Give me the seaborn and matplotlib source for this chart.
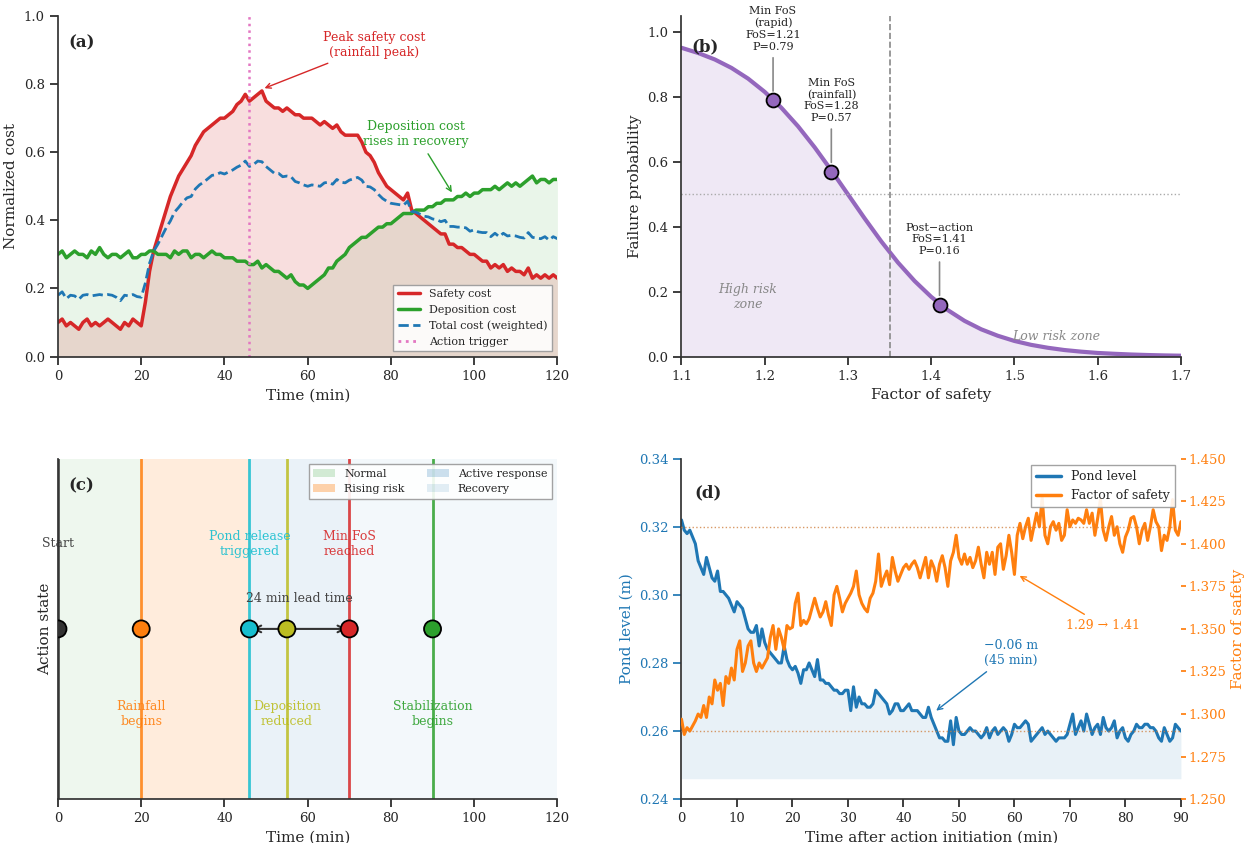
import numpy as np
import matplotlib
matplotlib.use("Agg")
import matplotlib.pyplot as plt
import seaborn as sns
from matplotlib.patches import Patch
from matplotlib.lines import Line2D

# ---------------- data ----------------
# Panel (a): costs sampled every minute, 0..120
time_a = np.arange(0, 121)
safety_cost = [
    0.10, 0.11, 0.09, 0.10, 0.09, 0.08, 0.10, 0.11, 0.09, 0.10, 0.09, 0.10, 0.11, 0.10, 0.09, 0.08, 0.10, 0.09, 0.11, 0.10, 0.09,
    0.16, 0.25, 0.31, 0.35, 0.39, 0.43, 0.47, 0.50, 0.53, 0.55, 0.57, 0.59, 0.62, 0.64, 0.66, 0.67, 0.68, 0.69, 0.70, 0.70,
    0.71, 0.72, 0.74, 0.75, 0.77, 0.75, 0.76, 0.77, 0.78, 0.75, 0.74, 0.73, 0.73, 0.72, 0.73, 0.72, 0.71, 0.71, 0.70, 0.70,
    0.70, 0.69, 0.68, 0.69, 0.68, 0.67, 0.68, 0.66, 0.65, 0.65, 0.65, 0.65, 0.63, 0.60, 0.59, 0.57, 0.54, 0.52, 0.50, 0.49,
    0.48, 0.47, 0.46, 0.48, 0.43, 0.42, 0.41, 0.40, 0.39, 0.38, 0.37, 0.36, 0.36, 0.33, 0.33, 0.32, 0.32, 0.31, 0.30, 0.30,
    0.29, 0.28, 0.28, 0.26, 0.27, 0.26, 0.27, 0.25, 0.26, 0.25, 0.25, 0.24, 0.26, 0.23, 0.24, 0.23, 0.24, 0.23, 0.24, 0.23,
]
deposition_cost = [
    0.30, 0.31, 0.29, 0.30, 0.31, 0.30, 0.30, 0.29, 0.31, 0.30, 0.32, 0.30, 0.29, 0.30, 0.30, 0.29, 0.30, 0.31, 0.29, 0.29, 0.30,
    0.30, 0.31, 0.31, 0.30, 0.30, 0.30, 0.29, 0.31, 0.30, 0.31, 0.31, 0.29, 0.30, 0.30, 0.29, 0.30, 0.31, 0.30, 0.30, 0.29,
    0.29, 0.29, 0.28, 0.28, 0.28, 0.27, 0.27, 0.28, 0.26, 0.27, 0.26, 0.25, 0.25, 0.24, 0.23, 0.24, 0.22, 0.21, 0.21, 0.20,
    0.21, 0.22, 0.23, 0.24, 0.26, 0.26, 0.28, 0.29, 0.30, 0.32, 0.33, 0.34, 0.35, 0.35, 0.36, 0.37, 0.38, 0.38, 0.39, 0.39,
    0.40, 0.41, 0.42, 0.42, 0.42, 0.43, 0.43, 0.43, 0.44, 0.44, 0.45, 0.45, 0.46, 0.46, 0.46, 0.47, 0.47, 0.48, 0.47, 0.48,
    0.48, 0.49, 0.49, 0.49, 0.50, 0.49, 0.50, 0.51, 0.50, 0.51, 0.50, 0.51, 0.52, 0.53, 0.51, 0.52, 0.52, 0.51, 0.52, 0.52,
]
safety_weight = 0.6
deposition_weight = 0.4
action_trigger_time = 46

# Panel (b): fragility curve
fos_grid = [1.10, 1.12, 1.14, 1.16, 1.18, 1.20, 1.22, 1.24, 1.26, 1.28, 1.30,
            1.32, 1.34, 1.36, 1.38, 1.40, 1.42, 1.44, 1.46, 1.48, 1.50,
            1.52, 1.54, 1.56, 1.58, 1.60, 1.62, 1.64, 1.66, 1.68, 1.70]
fail_prob = [0.952, 0.936, 0.916, 0.890, 0.857, 0.816, 0.767, 0.710, 0.645, 0.574, 0.500,
             0.426, 0.355, 0.290, 0.233, 0.184, 0.143, 0.110, 0.084, 0.064, 0.048,
             0.036, 0.027, 0.020, 0.015, 0.011, 0.0084, 0.0062, 0.0046, 0.0034, 0.0025]
key_fos = [1.21, 1.28, 1.41]
key_prob = [0.79, 0.57, 0.16]
key_labels = ["Min FoS\n(rapid)\nFoS=1.21\nP=0.79",
              "Min FoS\n(rainfall)\nFoS=1.28\nP=0.57",
              "Post\u2212action\nFoS=1.41\nP=0.16"]
fos_threshold = 1.35

# Panel (c): event timeline
event_times = [0, 20, 46, 55, 70, 90]
event_labels = ["Start", "Rainfall\nbegins", "Pond release\ntriggered",
                "Deposition\nreduced", "Min FoS\nreached", "Stabilization\nbegins"]
event_colors = ["#333333", "#ff7f0e", "#17becf", "#bcbd22", "#d62728", "#2ca02c"]
phase_names = ["Normal", "Rising risk", "Active response", "Recovery"]
phase_start = [0, 20, 46, 70]
phase_end = [20, 46, 70, 120]
phase_colors = ["#2ca02c", "#ff7f0e", "#1f77b4", "#1f77b4"]
phase_alpha = [0.08, 0.14, 0.09, 0.05]

# Panel (d): response after action, every 0.5 min, 0..90
time_d = np.arange(0, 90.5, 0.5)
pond_level = [
    0.322, 0.319, 0.318, 0.319, 0.317, 0.315, 0.310, 0.308, 0.306, 0.311,
    0.308, 0.305, 0.304, 0.307, 0.301, 0.301, 0.300, 0.299, 0.297, 0.295,
    0.298, 0.297, 0.296, 0.293, 0.290, 0.289, 0.289, 0.291, 0.285, 0.290,
    0.286, 0.284, 0.283, 0.282, 0.281, 0.280, 0.280, 0.285, 0.281, 0.279,
    0.278, 0.279, 0.277, 0.274, 0.278, 0.278, 0.280, 0.278, 0.276, 0.281,
    0.275, 0.275, 0.274, 0.274, 0.273, 0.272, 0.272, 0.271, 0.271, 0.272,
    0.272, 0.266, 0.273, 0.267, 0.270, 0.268, 0.268, 0.267, 0.267, 0.268,
    0.272, 0.271, 0.270, 0.269, 0.268, 0.265, 0.266, 0.268, 0.268, 0.266,
    0.266, 0.267, 0.268, 0.266, 0.266, 0.266, 0.265, 0.264, 0.264, 0.267,
    0.264, 0.262, 0.260, 0.258, 0.258, 0.257, 0.257, 0.263, 0.256, 0.264,
    0.260, 0.259, 0.259, 0.260, 0.261, 0.260, 0.260, 0.259, 0.258, 0.259,
    0.261, 0.258, 0.260, 0.261, 0.259, 0.260, 0.261, 0.260, 0.257, 0.259,
    0.262, 0.261, 0.261, 0.262, 0.263, 0.262, 0.257, 0.258, 0.259, 0.260,
    0.261, 0.259, 0.260, 0.259, 0.258, 0.257, 0.258, 0.258, 0.258, 0.259,
    0.262, 0.265, 0.259, 0.261, 0.263, 0.260, 0.265, 0.262, 0.259, 0.261,
    0.262, 0.259, 0.264, 0.261, 0.260, 0.261, 0.263, 0.258, 0.260, 0.261,
    0.258, 0.257, 0.259, 0.260, 0.262, 0.261, 0.261, 0.262, 0.262, 0.261,
    0.261, 0.260, 0.258, 0.257, 0.261, 0.259, 0.257, 0.258, 0.262, 0.261,
    0.260,
]
factor_of_safety = [
    1.297, 1.288, 1.292, 1.290, 1.293, 1.296, 1.300, 1.298, 1.305, 1.298,
    1.310, 1.306, 1.320, 1.314, 1.318, 1.305, 1.322, 1.318, 1.327, 1.320,
    1.338, 1.343, 1.325, 1.330, 1.340, 1.343, 1.330, 1.325, 1.330, 1.327,
    1.330, 1.333, 1.345, 1.352, 1.338, 1.350, 1.345, 1.338, 1.352, 1.350,
    1.351, 1.365, 1.371, 1.352, 1.355, 1.353, 1.356, 1.362, 1.368, 1.362,
    1.357, 1.360, 1.366, 1.358, 1.352, 1.370, 1.375, 1.368, 1.360, 1.365,
    1.368, 1.371, 1.375, 1.384, 1.370, 1.365, 1.362, 1.360, 1.368, 1.371,
    1.378, 1.394, 1.375, 1.380, 1.384, 1.376, 1.392, 1.384, 1.378, 1.382,
    1.386, 1.388, 1.385, 1.388, 1.390, 1.386, 1.380, 1.386, 1.392, 1.380,
    1.390, 1.386, 1.378, 1.388, 1.393, 1.386, 1.375, 1.390, 1.395, 1.405,
    1.392, 1.388, 1.394, 1.388, 1.392, 1.386, 1.390, 1.398, 1.388, 1.380,
    1.395, 1.388, 1.395, 1.382, 1.398, 1.400, 1.385, 1.393, 1.405, 1.395,
    1.382, 1.405, 1.412, 1.403, 1.410, 1.415, 1.402, 1.410, 1.418, 1.410,
    1.427, 1.405, 1.400, 1.410, 1.413, 1.408, 1.412, 1.402, 1.405, 1.420,
    1.410, 1.414, 1.412, 1.415, 1.414, 1.412, 1.420, 1.412, 1.418, 1.405,
    1.415, 1.426, 1.408, 1.402, 1.410, 1.416, 1.405, 1.410, 1.400, 1.395,
    1.404, 1.408, 1.415, 1.416, 1.410, 1.400, 1.408, 1.412, 1.402, 1.410,
    1.420, 1.413, 1.410, 1.396, 1.405, 1.402, 1.410, 1.426, 1.408, 1.405,
    1.413,
]
fos_before = 1.29
fos_after = 1.41

# ---------------- style ----------------
sns.set_theme(style="ticks")
plt.rcParams["font.family"] = ["DejaVu Serif", "DejaVu Sans"]
plt.rcParams["axes.edgecolor"] = "#333333"
plt.rcParams["xtick.labelsize"] = 9.5
plt.rcParams["ytick.labelsize"] = 9.5
plt.rcParams["axes.labelsize"] = 11

RED, GREEN, BLUE, PINK = "#d62728", "#2ca02c", "#1f77b4", "#e377c2"
ORANGE, PURPLE = "#ff7f0e", "#9467bd"

fig, axes = plt.subplots(2, 2, figsize=(12.47, 8.43), dpi=100)
fig.subplots_adjust(left=0.0465, right=0.947, bottom=0.052, top=0.981,
                    wspace=0.2485, hspace=0.30)
ax_a, ax_b = axes[0]
ax_c, ax_d = axes[1]

# ---------------- (a) ----------------
safety = np.array(safety_cost)
depo = np.array(deposition_cost)
total = safety_weight * safety + deposition_weight * depo

ax_a.fill_between(time_a, 0, depo, color=GREEN, alpha=0.10, lw=0)
ax_a.fill_between(time_a, 0, safety, color=RED, alpha=0.15, lw=0)
sns.lineplot(x=time_a, y=safety, ax=ax_a, color=RED, lw=2.5)
sns.lineplot(x=time_a, y=depo, ax=ax_a, color=GREEN, lw=2.5)
sns.lineplot(x=time_a, y=total, ax=ax_a, color=BLUE, lw=2, linestyle="--")
ax_a.axvline(action_trigger_time, color=PINK, ls=":", lw=1.8)
ax_a.set_xlim(0, 120)
ax_a.set_ylim(0, 1.0)
ax_a.set_xlabel("Time (min)")
ax_a.set_ylabel("Normalized cost")
ax_a.annotate("Peak safety cost\n(rainfall peak)", xy=(49, 0.785), xytext=(76, 0.915),
              color=RED, fontsize=9, ha="center", va="center",
              arrowprops=dict(arrowstyle="->", color=RED, lw=1))
ax_a.annotate("Deposition cost\nrises in recovery", xy=(95, 0.475), xytext=(86, 0.653),
              color=GREEN, fontsize=9, ha="center", va="center",
              arrowprops=dict(arrowstyle="->", color=GREEN, lw=1))
handles_a = [Line2D([], [], color=RED, lw=2.5), Line2D([], [], color=GREEN, lw=2.5),
             Line2D([], [], color=BLUE, lw=2, ls="--"), Line2D([], [], color=PINK, lw=2, ls=":")]
ax_a.legend(handles_a, ["Safety cost", "Deposition cost", "Total cost (weighted)", "Action trigger"],
            loc="lower right", fontsize=8, frameon=True, edgecolor="#999999", fancybox=False,
            framealpha=0.9)
ax_a.text(0.02, 0.92, "(a)", transform=ax_a.transAxes, fontsize=12, fontweight="bold", va="center")
sns.despine(ax=ax_a)

# ---------------- (b) ----------------
ax_b.fill_between(fos_grid, 0, fail_prob, color=PURPLE, alpha=0.15, lw=0)
sns.lineplot(x=fos_grid, y=fail_prob, ax=ax_b, color=PURPLE, lw=3)
ax_b.axvline(fos_threshold, color="#888888", ls="--", lw=1.2)
ax_b.axhline(0.5, color="#aaaaaa", ls=":", lw=1)
sns.scatterplot(x=key_fos, y=key_prob, ax=ax_b, color=PURPLE, s=100,
                edgecolor="black", linewidth=1.3, zorder=5)
for fx, fp, lab in zip(key_fos, key_prob, key_labels):
    ax_b.annotate(lab, xy=(fx, fp + 0.02), xytext=(fx, fp + 0.15), ha="center", va="bottom",
                  fontsize=8, color="#222222",
                  arrowprops=dict(arrowstyle="-", color="#888888", lw=1.2))
ax_b.text(1.18, 0.183, "High risk\nzone", style="italic", color="#888888", fontsize=9,
          ha="center", va="center")
ax_b.text(1.55, 0.062, "Low risk zone", style="italic", color="#888888", fontsize=9,
          ha="center", va="center")
ax_b.set_xlim(1.1, 1.7)
ax_b.set_ylim(0, 1.05)
ax_b.set_yticks([0, 0.2, 0.4, 0.6, 0.8, 1.0])
ax_b.set_xlabel("Factor of safety")
ax_b.set_ylabel("Failure probability")
ax_b.text(0.02, 0.91, "(b)", transform=ax_b.transAxes, fontsize=12, fontweight="bold", va="center")
sns.despine(ax=ax_b)

# ---------------- (c) ----------------
for name, s0, s1, col, al in zip(phase_names, phase_start, phase_end, phase_colors, phase_alpha):
    ax_c.axvspan(s0, s1, color=col, alpha=al, lw=0)
for i, (et, lab, col) in enumerate(zip(event_times, event_labels, event_colors)):
    ax_c.axvline(et, color=col, lw=2, alpha=0.85)
    ypos = 0.5 if i % 2 == 0 else -0.5
    ax_c.text(et, ypos, lab, color=col, fontsize=9, ha="center", va="center", alpha=0.9)
ax_c.annotate("", xy=(event_times[2], 0), xytext=(event_times[4], 0),
              arrowprops=dict(arrowstyle="<->", color="#333333", lw=1.5))
ax_c.text((event_times[2] + event_times[4]) / 2, 0.18,
          f"{event_times[4] - event_times[2]} min lead time",
          color="#444444", fontsize=9, ha="center", va="center")
sns.scatterplot(x=event_times, y=[0] * len(event_times), ax=ax_c, hue=event_labels,
                palette=event_colors, s=150, edgecolor="black", linewidth=1.3,
                zorder=6, legend=False, clip_on=True)
ax_c.set_xlim(0, 120)
ax_c.set_ylim(-1, 1)
ax_c.set_yticks([])
ax_c.set_xlabel("Time (min)")
ax_c.set_ylabel("Action state")
phase_handles = [Patch(facecolor=c, alpha=min(a * 2.5, 1), edgecolor="none")
                 for c, a in zip(phase_colors, phase_alpha)]
ax_c.legend(phase_handles, phase_names, loc="upper right", ncol=2, fontsize=8,
            frameon=True, edgecolor="#999999", fancybox=False, framealpha=0.9)
ax_c.text(0.02, 0.92, "(c)", transform=ax_c.transAxes, fontsize=12, fontweight="bold", va="center")
sns.despine(ax=ax_c)

# ---------------- (d) ----------------
pond = np.array(pond_level)
ax_d.fill_between(time_d, pond.min() - 0.01, pond, color=BLUE, alpha=0.1, lw=0)
sns.lineplot(x=time_d, y=pond, ax=ax_d, color=BLUE, lw=2.2)
ax_d.set_xlim(0, 90)
ax_d.set_ylim(0.24, 0.34)
ax_d.set_yticks([0.24, 0.26, 0.28, 0.30, 0.32, 0.34])
ax_d.set_xlabel("Time after action initiation (min)")
ax_d.set_ylabel("Pond level (m)", color=BLUE)
ax_d.tick_params(axis="y", colors=BLUE)
ax_d.spines["left"].set_color("#333333")

ax_d2 = ax_d.twinx()
sns.lineplot(x=time_d, y=factor_of_safety, ax=ax_d2, color=ORANGE, lw=2.2)
ax_d2.axhline(fos_before, color="#d08040", ls=":", lw=1, alpha=0.8)
ax_d2.axhline(fos_after, color="#d08040", ls=":", lw=1, alpha=0.8)
ax_d2.set_ylim(1.25, 1.45)
ax_d2.set_yticks([1.250, 1.275, 1.300, 1.325, 1.350, 1.375, 1.400, 1.425, 1.450])
ax_d2.yaxis.set_major_formatter(matplotlib.ticker.FormatStrFormatter("%.3f"))
ax_d2.set_ylabel("Factor of safety", color=ORANGE, labelpad=3)
ax_d2.tick_params(axis="y", colors=ORANGE, length=3.5, pad=2)
for sp in ["top", "right"]:
    ax_d.spines[sp].set_visible(False)
for sp in ["top", "right", "left", "bottom"]:
    ax_d2.spines[sp].set_visible(False)

ax_d.annotate(f"\u2212{pond_level[0] - pond_level[-1] - 0.002:.2f} m\n(45 min)", xy=(45.5, 0.2655),
              xytext=(59.4, 0.283), color=BLUE, fontsize=9, ha="center", va="center",
              arrowprops=dict(arrowstyle="->", color=BLUE, lw=1))
ax_d2.annotate(f"{fos_before:.2f} \u2192 {fos_after:.2f}", xy=(60.5, 1.382), xytext=(76, 1.352),
               color=ORANGE, fontsize=9, ha="center", va="center",
               arrowprops=dict(arrowstyle="->", color=ORANGE, lw=1))
handles_d = [Line2D([], [], color=BLUE, lw=2.5), Line2D([], [], color=ORANGE, lw=2.5)]
ax_d2.legend(handles_d, ["Pond level", "Factor of safety"], loc="upper right", fontsize=9,
             frameon=True, edgecolor="#999999", fancybox=False, framealpha=0.9)
ax_d.text(0.025, 0.90, "(d)", transform=ax_d.transAxes, fontsize=12, fontweight="bold", va="center")

fig.savefig("out.png", dpi=100)
